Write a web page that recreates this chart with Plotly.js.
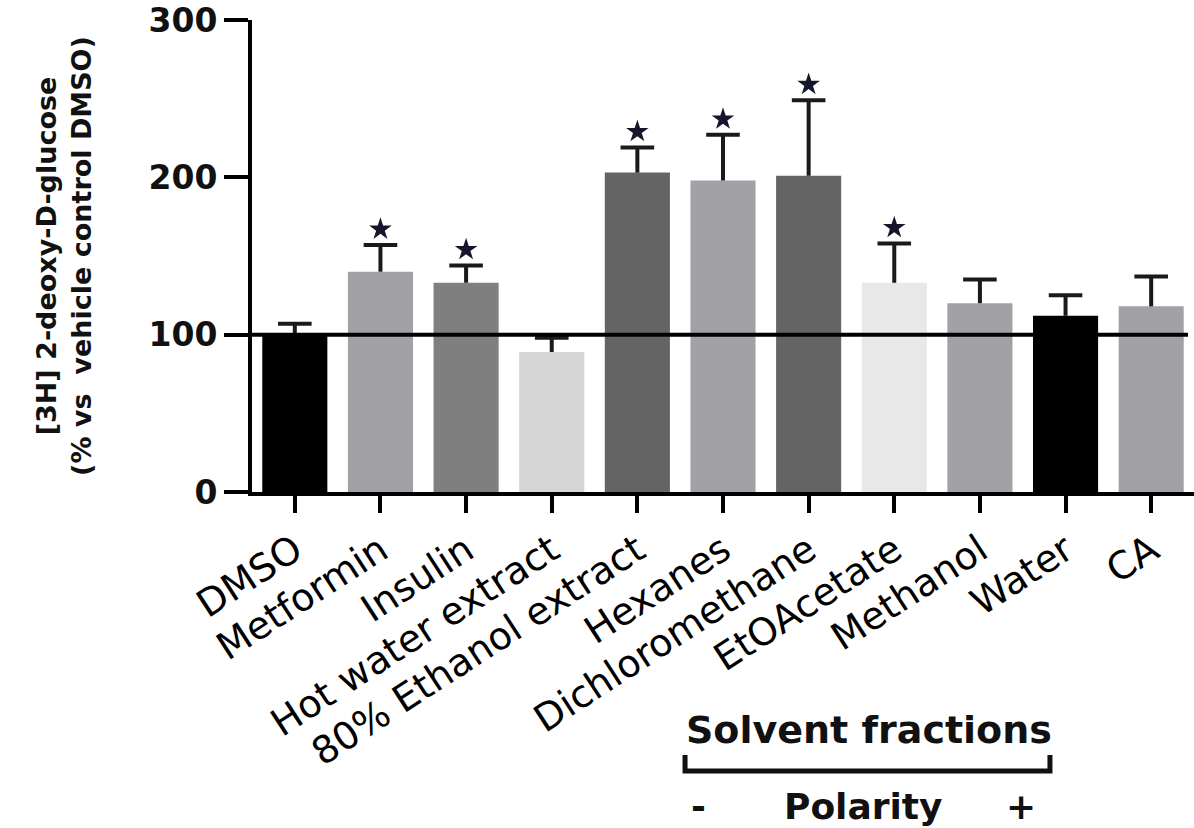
<!DOCTYPE html>
<html><head><meta charset="utf-8">
<script src="https://cdn.plot.ly/plotly-3.0.1.min.js"></script>
<style>html,body{margin:0;padding:0;background:#fff;} #chart{width:1194px;height:828px;}</style>
</head><body><div id="chart"></div>
<script>
// ---- data ----
const categories = ["DMSO","Metformin","Insulin","Hot water extract","80% Ethanol extract","Hexanes","Dichloromethane","EtOAcetate","Methanol","Water","CA"];
const meanValues = [100,140,133,89,203,198,201,133,120,112,118];
const errorValues = [7,17,11,9,16,29,48,25,15,13,19];
const significant = [false,true,true,false,true,true,true,true,false,false,false];
const barColors = ["#000000","#a2a2a6","#7f7f7f","#d6d6d6","#646464","#a2a2a6","#646464","#e8e8e8","#a2a2a6","#000000","#a2a2a6"];
const yTickValues = [0,100,200,300];
const referenceLevel = 100;
const yTitleLines = ["[3H] 2-deoxy-D-glucose","(% vs&nbsp; vehicle control DMSO)"];

// ---- traces ----
const bars = {
  type:'bar', x:categories, y:meanValues,
  marker:{color:barColors, line:{width:0}},
  hoverinfo:'x+y'
};
// upward-only error bars: cap marker at mean+SD, stem drawn down to the bar top
const errTops = meanValues.map((v,i)=>v+errorValues[i]);
const errorBars = {
  type:'scatter', mode:'markers', x:categories, y:errTops,
  marker:{symbol:'line-ew', size:24, color:'#1a1a1a', line:{width:4, color:'#1a1a1a'}},
  error_y:{type:'data', symmetric:false, array:meanValues.map(()=>0), arrayminus:errorValues,
           visible:true, width:0, thickness:4, color:'#1a1a1a'},
  cliponaxis:false, hoverinfo:'skip'
};
const starX = [], starY = [];
categories.forEach((c,i)=>{ if(significant[i]){ starX.push(c); starY.push(errTops[i]+10); } });
const stars = {
  type:'scatter', mode:'markers', x:starX, y:starY,
  marker:{symbol:'star', size:17, color:'#15152b'}, cliponaxis:false, hoverinfo:'skip'
};

const F = 'DejaVu Sans';
const layout = {
  width:1194, height:828,
  margin:{l:252, r:0, t:20, b:336},
  paper_bgcolor:'#ffffff', plot_bgcolor:'#ffffff',
  showlegend:false,
  bargap:0.24,
  font:{family:F, color:'#111'},
  xaxis:{type:'category', range:[-0.5,10.5], showline:true, linewidth:4, linecolor:'#000',
         ticks:'outside', ticklen:17, tickwidth:4, tickcolor:'#000', tickangle:-33,
         tickfont:{family:F, size:38, color:'#000'},
         showgrid:false, zeroline:false, automargin:false, fixedrange:true},
  yaxis:{range:[0,300], tickvals:yTickValues, showline:true, linewidth:4, linecolor:'#000',
         ticks:'outside', ticklen:24, tickwidth:4, tickcolor:'#000',
         tickfont:{family:F, size:33, weight:'bold', color:'#111'},
         showgrid:false, zeroline:false, automargin:false, fixedrange:true,
         title:{text:yTitleLines.join('<br>'), font:{family:F, size:27, weight:'bold', color:'#111'}, standoff:50}},
  shapes:[
    {type:'line', xref:'x', yref:'y', x0:-0.5, x1:10.43, y0:referenceLevel, y1:referenceLevel,
     line:{color:'#000', width:4}, layer:'above'},
    {type:'path', xref:'paper', yref:'paper',
     path:'M 0.4597 -0.5572 L 0.4597 -0.5911 L 0.8471 -0.5911 L 0.8471 -0.5572',
     line:{color:'#111', width:5}}
  ],
  annotations:[
    {text:'Solvent fractions', xref:'paper', yref:'paper', x:0.6555, y:-0.5042, showarrow:false,
     xanchor:'center', yanchor:'middle', font:{family:F, size:38, weight:'bold', color:'#111'}},
    {text:'-', xref:'paper', yref:'paper', x:0.4735, y:-0.6653, showarrow:false,
     xanchor:'center', yanchor:'middle', font:{family:F, size:36, weight:'bold', color:'#111'}},
    {text:'Polarity', xref:'paper', yref:'paper', x:0.6492, y:-0.6653, showarrow:false,
     xanchor:'center', yanchor:'middle', font:{family:F, size:36, weight:'bold', color:'#111'}},
    {text:'+', xref:'paper', yref:'paper', x:0.8163, y:-0.6653, showarrow:false,
     xanchor:'center', yanchor:'middle', font:{family:F, size:36, weight:'bold', color:'#111'}}
  ]
};
Plotly.newPlot('chart',[bars,errorBars,stars],layout,{displayModeBar:false, staticPlot:true});
</script></body></html>
